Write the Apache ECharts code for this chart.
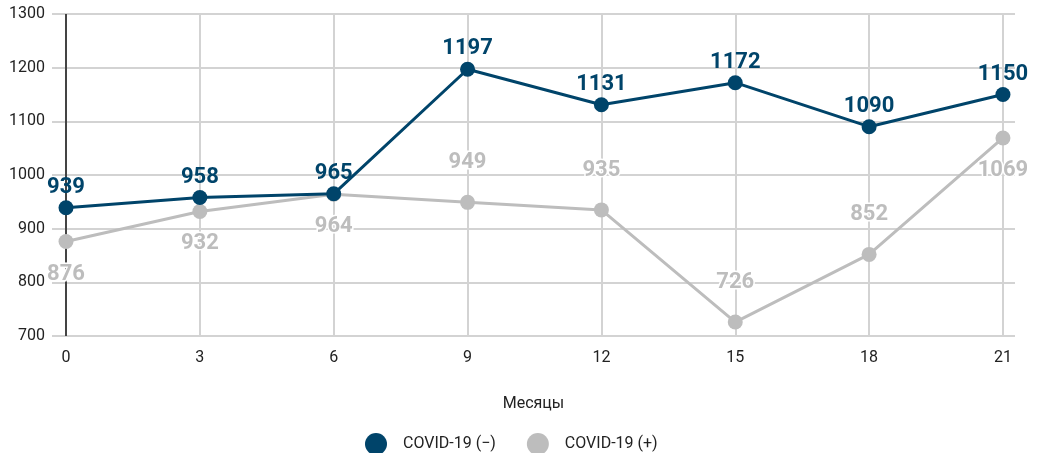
<!DOCTYPE html>
<html>
<head>
<meta charset="utf-8">
<script src="https://cdn.jsdelivr.net/npm/echarts@6/dist/echarts.min.js"></script>
<style>
  html, body { margin: 0; padding: 0; background: #fff; }
  #chart { width: 1040px; height: 453px; }
</style>
</head>
<body>
<div id="chart"></div>
<script>
var months = [0, 3, 6, 9, 12, 15, 18, 21];
var covidNeg = [939, 958, 965, 1197, 1131, 1172, 1090, 1150];
var covidPos = [876, 932, 964, 949, 935, 726, 852, 1069];
var yTicks = [700, 800, 900, 1000, 1100, 1200, 1300];

// where the grey labels sit (style only)
var posLabelSide = ['bottom', 'bottom', 'bottom', 'top', 'top', 'top', 'top', 'bottom'];

var darkColor = '#00446a';
var greyColor = '#bdbdbd';

var myChart = echarts.init(document.getElementById('chart'));

function pairs(values) {
    return values.map(function (v, i) { return [months[i], v]; });
}

var posData = covidPos.map(function (v, i) {
    return {
        value: [months[i], v],
        label: { position: posLabelSide[i], distance: posLabelSide[i] == 'top' ? 21 : 14 }
    };
});

var option = {
    animation: false,
    textStyle: { fontFamily: 'Roboto' },
    grid: {
        left: 52,
        right: 25,
        top: 14,
        bottom: 117
    },
    legend: {
        top: 428,
        left: 360,
        icon: 'circle',
        itemWidth: 22,
        itemHeight: 22,
        itemGap: 31,
        textStyle: { fontSize: 16, color: '#222', padding: [0, 0, 0, 11] },
        data: ['COVID-19 (−)', 'COVID-19 (+)']
    },
    xAxis: {
        type: 'value',
        min: -0.314,
        max: 21.27,
        name: 'Месяцы',
        nameLocation: 'middle',
        nameGap: 60,
        nameTextStyle: { fontSize: 16, color: '#222' },
        axisLine: { show: false },
        axisTick: { show: false, customValues: months },
        axisLabel: { customValues: months, fontSize: 16, color: '#222', margin: 14 },
        splitLine: { show: true, lineStyle: { color: '#d3d3d3', width: 2 } }
    },
    yAxis: {
        type: 'value',
        min: yTicks[0],
        max: yTicks[yTicks.length - 1],
        interval: 100,
        axisLine: { show: false },
        axisTick: { show: false },
        axisLabel: {
            fontSize: 16,
            color: '#222',
            margin: 7,
            formatter: function (v) { return String(v); }
        },
        splitLine: { lineStyle: { color: '#d3d3d3', width: 2 } }
    },
    series: [
        {
            name: 'COVID-19 (+)',
            type: 'line',
            data: posData,
            symbol: 'circle',
            symbolSize: 15,
            z: 2,
            itemStyle: { color: greyColor },
            lineStyle: { color: greyColor, width: 3 },
            label: {
                show: true,
                fontSize: 22,
                fontWeight: 'bold',
                color: greyColor,
                textBorderColor: '#fff',
                textBorderWidth: 3,
                formatter: function (p) { return p.value[1]; }
            },
            markLine: {
                silent: true,
                symbol: 'none',
                label: { show: false },
                lineStyle: { color: '#444', width: 2, type: 'solid' },
                data: [{ xAxis: 0 }],
                z: 1
            }
        },
        {
            name: 'COVID-19 (−)',
            type: 'line',
            data: pairs(covidNeg),
            symbol: 'circle',
            symbolSize: 15,
            z: 3,
            itemStyle: { color: darkColor },
            lineStyle: { color: darkColor, width: 3 },
            label: {
                show: true,
                position: 'top',
                distance: 2,
                fontSize: 22,
                fontWeight: 'bold',
                color: darkColor,
                formatter: function (p) { return p.value[1]; }
            }
        }
    ]
};

myChart.setOption(option);
</script>
</body>
</html>
